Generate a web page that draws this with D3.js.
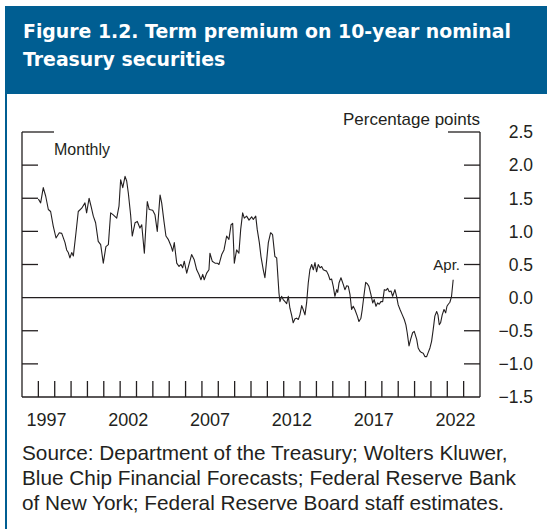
<!DOCTYPE html>
<html>
<head>
<meta charset="utf-8">
<script src="https://cdn.jsdelivr.net/npm/d3@7"></script>
<style>
  html, body { margin: 0; padding: 0; background: #fff; }
  svg { display: block; }
</style>
</head>
<body>
<svg id="chart" width="547" height="529"></svg>
<script>
// ---- Data ----
const titleLines = ["Figure 1.2. Term premium on 10-year nominal", "Treasury securities"];
const sourceLines = [
  "Source: Department of the Treasury; Wolters Kluwer,",
  "Blue Chip Financial Forecasts; Federal Reserve Bank",
  "of New York; Federal Reserve Board staff estimates."
];
const yTicks = [2.5, 2.0, 1.5, 1.0, 0.5, 0.0, -0.5, -1.0, -1.5];
const yearLabels = [1997, 2002, 2007, 2012, 2017, 2022];
const yearTicks = d3.range(1997, 2024);
const dates = [
  1997.00, 1997.14, 1997.30, 1997.45, 1997.61, 1997.75, 1997.91, 1998.08, 1998.28, 1998.43,
  1998.63, 1998.73, 1998.83, 1998.93, 1999.04, 1999.14, 1999.30, 1999.44, 1999.65, 1999.85,
  1999.95, 2000.10, 2000.22, 2000.36, 2000.50, 2000.66, 2000.81, 2000.97, 2001.13, 2001.28,
  2001.42, 2001.58, 2001.79, 2001.93, 2002.03, 2002.16, 2002.30, 2002.40, 2002.50, 2002.64,
  2002.74, 2002.91, 2003.05, 2003.21, 2003.32, 2003.48, 2003.66, 2003.78, 2003.99, 2004.13,
  2004.27, 2004.44, 2004.54, 2004.68, 2004.80, 2004.94, 2005.11, 2005.21, 2005.31, 2005.46,
  2005.60, 2005.72, 2005.82, 2005.92, 2006.07, 2006.23, 2006.37, 2006.53, 2006.68, 2006.82,
  2006.94, 2007.05, 2007.14, 2007.29, 2007.43, 2007.49, 2007.63, 2007.80, 2007.94, 2008.04,
  2008.10, 2008.21, 2008.35, 2008.51, 2008.65, 2008.78, 2008.88, 2008.98, 2009.12, 2009.26,
  2009.37, 2009.49, 2009.59, 2009.73, 2009.88, 2010.04, 2010.14, 2010.29, 2010.38, 2010.51,
  2010.61, 2010.75, 2010.85, 2010.96, 2011.06, 2011.20, 2011.32, 2011.46, 2011.57, 2011.71,
  2011.77, 2011.87, 2011.97, 2012.08, 2012.18, 2012.28, 2012.38, 2012.48, 2012.58, 2012.69,
  2012.79, 2012.89, 2012.99, 2013.10, 2013.19, 2013.30, 2013.40, 2013.50, 2013.60, 2013.71,
  2013.81, 2013.91, 2014.01, 2014.11, 2014.22, 2014.32, 2014.42, 2014.52, 2014.62, 2014.72,
  2014.83, 2014.93, 2015.03, 2015.13, 2015.24, 2015.30, 2015.38, 2015.50, 2015.64, 2015.74,
  2015.85, 2015.95, 2016.05, 2016.15, 2016.25, 2016.35, 2016.50, 2016.60, 2016.72, 2016.80,
  2016.90, 2017.01, 2017.11, 2017.21, 2017.33, 2017.44, 2017.53, 2017.64, 2017.74, 2017.84,
  2017.94, 2018.05, 2018.15, 2018.25, 2018.35, 2018.45, 2018.56, 2018.66, 2018.80, 2018.90,
  2019.00, 2019.11, 2019.25, 2019.37, 2019.47, 2019.55, 2019.66, 2019.76, 2019.88, 2019.98,
  2020.13, 2020.22, 2020.33, 2020.43, 2020.53, 2020.63, 2020.74, 2020.83, 2020.94, 2021.04,
  2021.14, 2021.24, 2021.35, 2021.43, 2021.51, 2021.59, 2021.69, 2021.80, 2021.90, 2021.98,
  2022.06, 2022.16, 2022.26, 2022.36
];
const premium = [
  1.49, 1.43, 1.66, 1.53, 1.33, 1.30, 1.08, 0.90, 0.98, 0.97,
  0.83, 0.72, 0.68, 0.60, 0.68, 0.63, 0.98, 1.30, 1.35, 1.43,
  1.28, 1.50, 1.38, 1.23, 1.13, 0.85, 0.80, 0.52, 0.77, 0.80,
  1.28, 1.25, 1.20, 1.38, 1.78, 1.66, 1.83, 1.76, 1.58, 1.25,
  0.93, 1.13, 1.15, 1.05, 1.10, 0.67, 1.45, 1.33, 1.32, 1.25,
  1.00, 1.55, 1.43, 1.15, 0.93, 0.88, 0.78, 0.70, 0.83, 0.52,
  0.47, 0.50, 0.45, 0.55, 0.37, 0.52, 0.65, 0.57, 0.42, 0.35,
  0.27, 0.35, 0.27, 0.37, 0.42, 0.67, 0.55, 0.52, 0.52, 0.50,
  0.55, 0.65, 0.72, 0.93, 0.88, 1.10, 1.12, 0.52, 0.72, 0.67,
  1.03, 1.28, 1.20, 1.23, 1.17, 1.22, 1.18, 1.23, 1.03, 0.83,
  0.62, 0.42, 0.30, 0.57, 0.83, 0.98, 0.95, 0.62, 0.60, 0.07,
  -0.06, 0.02, -0.03, -0.06, -0.09, 0.02, -0.16, -0.26, -0.38, -0.32,
  -0.31, -0.33, -0.26, -0.12, -0.18, -0.26, -0.08, 0.22, 0.42, 0.50,
  0.42, 0.53, 0.39, 0.50, 0.45, 0.47, 0.42, 0.41, 0.40, 0.35,
  0.27, 0.28, 0.17, 0.02, 0.12, 0.08, 0.22, 0.30, 0.20, 0.12,
  0.18, 0.17, 0.05, -0.18, -0.13, -0.18, -0.28, -0.36, -0.31, -0.18,
  0.02, 0.23, 0.21, 0.17, 0.05, -0.08, -0.03, -0.13, -0.08, -0.10,
  -0.06, -0.06, 0.12, 0.11, 0.14, 0.09, 0.10, 0.02, 0.12, 0.02,
  -0.11, -0.18, -0.26, -0.33, -0.41, -0.53, -0.73, -0.63, -0.53, -0.51,
  -0.63, -0.76, -0.81, -0.83, -0.84, -0.89, -0.89, -0.83, -0.76, -0.66,
  -0.48, -0.28, -0.21, -0.26, -0.41, -0.38, -0.26, -0.18, -0.23, -0.13,
  -0.10, -0.07, 0.02, 0.27
];

// ---- Drawing ----
const svg = d3.select("#chart");
const blue = "#005e92";
const ink = "#231f20";
const textFont = "'Liberation Sans', Arial, sans-serif";

// Frame & header
svg.append("rect").attr("x", 5).attr("y", 6).attr("width", 560).attr("height", 88).attr("fill", blue);
svg.append("rect").attr("x", 5).attr("y", 6).attr("width", 2).attr("height", 540).attr("fill", blue);

const title = svg.append("g").attr("font-family", "'DejaVu Sans', sans-serif").attr("font-weight", "bold")
  .attr("fill", "#fff");
title.selectAll("text").data(titleLines).join("text")
  .attr("x", 23).attr("y", (d, i) => 38 + i * 28)
  .attr("font-size", 18)
  .text(d => d);
// fit the title width to the reference
(function () {
  const t = title.select("text").node();
  const w = t.getComputedTextLength();
  title.selectAll("text").attr("font-size", 18 * 488 / w);
})();

const x = d3.scaleLinear().domain([1996, 2024]).range([22, 480]);
const y = d3.scaleLinear().domain([-1.5, 2.5]).range([397, 132]);

const axes = svg.append("g").attr("stroke", ink).attr("stroke-width", 1.3).attr("fill", "none");
// left & right vertical axis lines
axes.append("line").attr("x1", x(1996)).attr("x2", x(1996)).attr("y1", y(2.5)).attr("y2", y(-1.5));
axes.append("line").attr("x1", x(2024)).attr("x2", x(2024)).attr("y1", y(2.5)).attr("y2", y(-1.5));
// bottom and zero lines
axes.append("line").attr("x1", x(1996)).attr("x2", x(2024)).attr("y1", y(-1.5)).attr("y2", y(-1.5));
axes.append("line").attr("x1", x(1996)).attr("x2", x(2024)).attr("y1", y(0)).attr("y2", y(0));
// y ticks on both sides
const yTickLen = d => (d === 2.5 ? 32 : 16);
axes.selectAll(".lt").data(yTicks.filter(d => d !== 0 && d !== -1.5)).join("line")
  .attr("x1", x(1996)).attr("x2", d => x(1996) + yTickLen(d))
  .attr("y1", d => y(d)).attr("y2", d => y(d));
axes.selectAll(".rt").data(yTicks.filter(d => d !== 0 && d !== -1.5)).join("line")
  .attr("x1", x(2024)).attr("x2", d => x(2024) - yTickLen(d))
  .attr("y1", d => y(d)).attr("y2", d => y(d));
// x ticks (year boundaries)
axes.selectAll(".xt").data(yearTicks).join("line")
  .attr("x1", d => x(d)).attr("x2", d => x(d))
  .attr("y1", y(-1.5)).attr("y2", y(-1.5) - 16);

// y labels (right)
const fmt = d => (d < 0 ? "\u2212" : "") + Math.abs(d).toFixed(1);
svg.append("g").attr("font-family", textFont).attr("font-size", 17.5).attr("fill", ink)
  .selectAll("text").data(yTicks).join("text")
  .attr("x", 533).attr("y", d => y(d)).attr("dy", "0.36em").attr("text-anchor", "end")
  .text(fmt);

// x labels
svg.append("g").attr("font-family", textFont).attr("font-size", 18).attr("fill", ink)
  .selectAll("text").data(yearLabels).join("text")
  .attr("x", d => x(d + 0.5)).attr("y", 426).attr("text-anchor", "middle")
  .text(d => d);

// Series line
const line = d3.line().x(d => x(d[0])).y(d => y(d[1]));
svg.append("path").datum(d3.zip(dates, premium))
  .attr("d", line).attr("fill", "none").attr("stroke", ink).attr("stroke-width", 1.1)
  .attr("stroke-linejoin", "round");

// Annotations
svg.append("text").attr("x", 480).attr("y", 125).attr("text-anchor", "end")
  .attr("font-family", textFont).attr("font-size", 17).attr("fill", ink).text("Percentage points");
svg.append("text").attr("x", 54).attr("y", 155)
  .attr("font-family", textFont).attr("font-size", 16).attr("fill", ink).text("Monthly");
svg.append("text").attr("x", 460).attr("y", 270).attr("text-anchor", "end")
  .attr("font-family", textFont).attr("font-size", 15).attr("fill", ink).text("Apr.");

// Source
const src = svg.append("g").attr("font-family", textFont).attr("fill", ink);
src.selectAll("text").data(sourceLines).join("text")
  .attr("x", 22).attr("y", (d, i) => 460 + i * 25).attr("font-size", 18).text(d => d);
(function () {
  const t = src.select("text").node();
  const w = t.getComputedTextLength();
  src.selectAll("text").attr("font-size", 18 * 486 / w);
})();
</script>
</body>
</html>
